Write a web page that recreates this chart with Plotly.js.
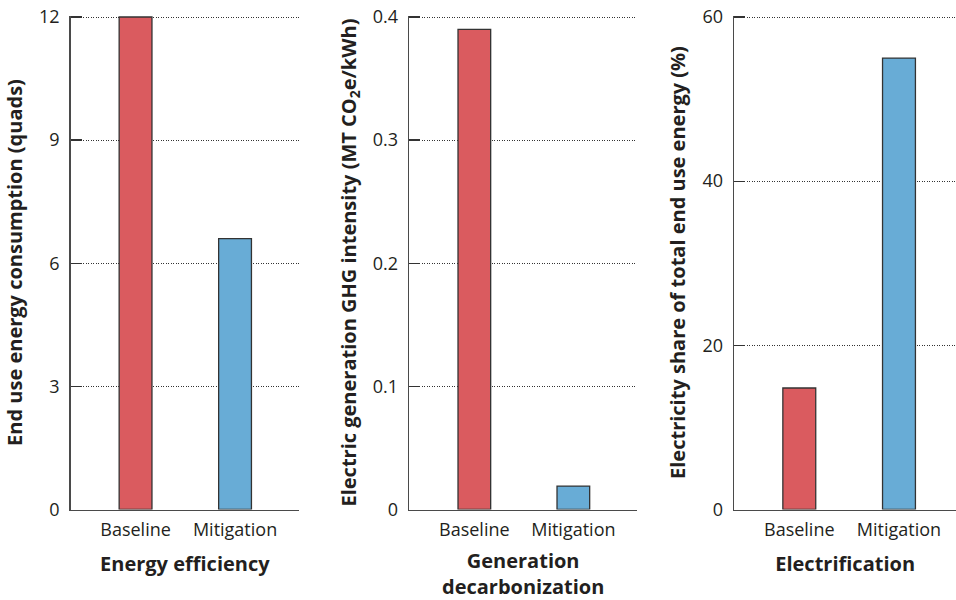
<!DOCTYPE html>
<html>
<head>
<meta charset="utf-8">
<script src="https://cdn.plot.ly/plotly-3.0.1.min.js"></script>
<style>html,body{margin:0;padding:0;background:#fff;}#chart{width:956px;height:600px;}</style>
</head>
<body>
<div id="chart"></div>
<script>
// ---- data ----
const categories = ['Baseline', 'Mitigation'];
const endUseEnergy = [12, 6.6];            // quads
const ghgIntensity = [0.39, 0.019];        // MT CO2e/kWh
const electricityShare = [14.8, 55];       // %
const panelTitles = ['Energy efficiency', 'Generation<br>decarbonization', 'Electrification'];
const yTitles = [
  'End use energy consumption (quads)',
  'Electric generation GHG intensity (MT CO<sub>2</sub>e/kWh)',
  'Electricity share of total end use energy (%)'
];
const yTicks1 = [0, 3, 6, 9, 12];
const yTicks2 = [0, 0.1, 0.2, 0.3, 0.4];
const yTicks3 = [0, 20, 40, 60];
const barColors = ['#da5b5f', '#68acd6'];

// ---- style ----
const W = 956, H = 600;
const FONT = '"Open Sans", "Noto Sans", sans-serif';
const textColor = '#231f20';
// plot area: top tick at y=17px, zero at y=509.5px; a little headroom so the top grid line is drawn
const pad = 1.5;
const yTopPx = 17 - pad, yBotPx = 509.5;
const yTop = 1 - yTopPx / H, yBot = 1 - yBotPx / H;
const headroom = (yBotPx - yTopPx) / (yBotPx - 17);

function bar(vals, xa, ya) {
  return {
    type: 'bar', x: categories, y: vals, xaxis: xa, yaxis: ya,
    width: 0.33,
    marker: { color: barColors, line: { color: '#333333', width: 1.3 } },
    hoverinfo: 'x+y', showlegend: false
  };
}

function xAxis(domain, range, title, anchor) {
  return {
    domain: domain, range: range, anchor: anchor,
    showline: true, linecolor: '#4a4a4a', linewidth: 1.6,
    ticks: '', showgrid: false, zeroline: false,
    tickfont: { family: FONT, size: 18, color: textColor },
    ticklabelstandoff: 3,
    title: { text: title, font: { family: FONT, size: 20, color: textColor, weight: 'bold' }, standoff: 17 },
    fixedrange: true
  };
}
function yAxis(maxVal, ticks, title, anchor, standoff) {
  return {
    domain: [yBot, yTop], range: [0, maxVal * headroom], anchor: anchor,
    tickvals: ticks, showline: true, linecolor: '#4a4a4a', linewidth: 1.6,
    ticks: 'inside', ticklen: 11, tickcolor: '#333', tickwidth: 1.3,
    showgrid: true, gridcolor: '#333', gridwidth: 1, griddash: '1px,1.5px',
    zeroline: false,
    tickfont: { family: FONT, size: 18, color: textColor },
    ticklabelstandoff: 6,
    title: { text: title, font: { family: FONT, size: 20, color: textColor, weight: 'bold' }, standoff: standoff },
    fixedrange: true
  };
}

const data = [
  bar(endUseEnergy, 'x', 'y'),
  bar(ghgIntensity, 'x2', 'y2'),
  bar(electricityShare, 'x3', 'y3')
];

const layout = {
  width: W, height: H,
  margin: { l: 0, r: 0, t: 0, b: 0 },
  paper_bgcolor: '#fff', plot_bgcolor: '#fff',
  font: { family: FONT, color: textColor },
  bargap: 0,
  xaxis: xAxis([70.7 / W, 299 / W], [-0.652, 1.643], panelTitles[0], 'y'),
  xaxis2: xAxis([409.3 / W, 637 / W], [-0.657, 1.643], panelTitles[1], 'y2'),
  xaxis3: xAxis([734.3 / W, 1], [-0.652, 1.572], panelTitles[2], 'y3'),
  yaxis: yAxis(12, yTicks1, yTitles[0], 'x', 11),
  yaxis2: yAxis(0.4, yTicks2, yTitles[1], 'x2', 11),
  yaxis3: yAxis(60, yTicks3, yTitles[2], 'x3', 11)
};

Plotly.newPlot('chart', data, layout, { displayModeBar: false, staticPlot: true });
</script>
</body>
</html>
